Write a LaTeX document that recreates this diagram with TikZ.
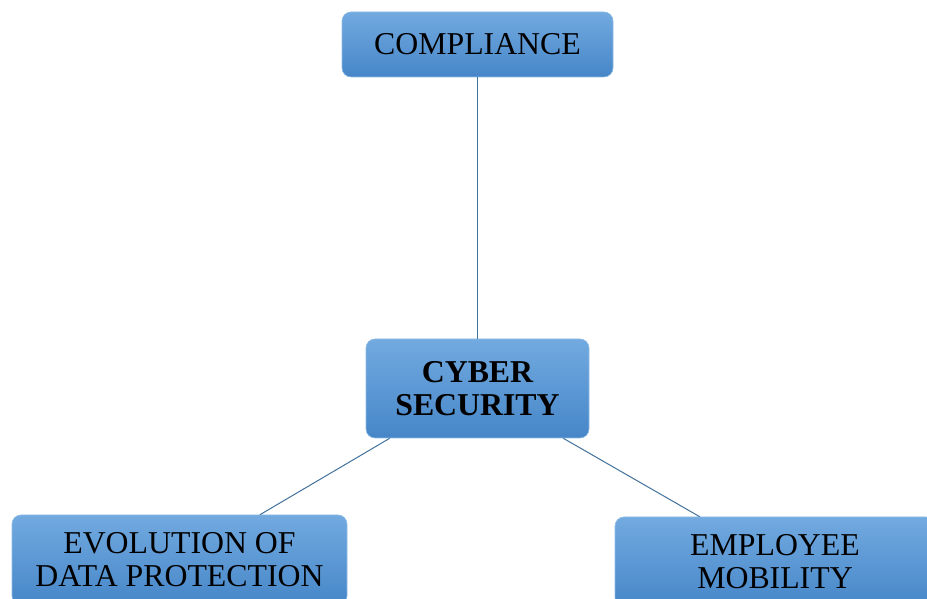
\documentclass[tikz,border=0pt]{standalone}
\usepackage{fontspec}
\setmainfont{Liberation Serif}
\usetikzlibrary{positioning}

\definecolor{boxtop}{HTML}{72AAE0}
\definecolor{boxbot}{HTML}{4686C8}
\definecolor{boxrim}{HTML}{8DBBE6}
\definecolor{linkblue}{HTML}{41719C}

\tikzset{
  topic/.style={rectangle, rounded corners=9pt, top color=boxtop, bottom color=boxbot,
    draw=boxrim, line width=0.6pt, align=center, inner sep=0pt,
    font=\fontsize{31.8}{33}\selectfont},
  link/.style={draw=linkblue, line width=1pt}
}

\begin{document}
\begin{tikzpicture}[x=1pt,y=1pt]

\useasboundingbox (0,0) rectangle (927,599);
\clip (0,0) rectangle (927,599);

% the four boxes
\node[topic, minimum width=271pt, minimum height=65pt] (compliance) at (477.5,554.5) {COMPLIANCE};
\node[topic, minimum width=223pt, minimum height=99pt, font=\fontsize{31.8}{33}\selectfont\bfseries] (cyber) at (477.5,210.5) {CYBER\\SECURITY};
\node[topic, minimum width=335pt, minimum height=90pt] (evolution) at (179.5,39) {EVOLUTION OF\\DATA PROTECTION};
\node[topic, minimum width=320pt, minimum height=90pt] (mobility) at (775,37) {EMPLOYEE\\MOBILITY};

% links
\draw[link] (compliance.south) -- (cyber.north);
\draw[link] ([xshift=24pt]cyber.south west) -- ([xshift=80.5pt]evolution.north);
\draw[link] ([xshift=-26pt]cyber.south east) -- ([xshift=85pt]mobility.north west);

\end{tikzpicture}
\end{document}
